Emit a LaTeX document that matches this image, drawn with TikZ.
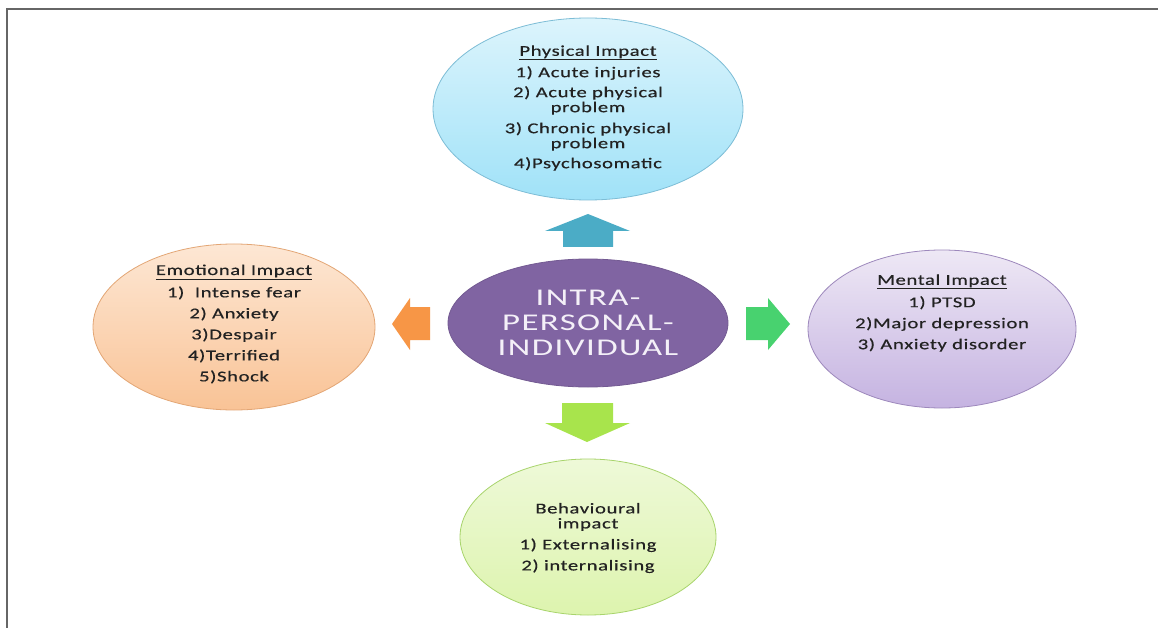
\documentclass[tikz,border=0pt]{standalone}
\usepackage{fontspec}
\setmainfont{Carlito}
\newfontfamily\bodyfont{Carlito}[FakeStretch=1.38,LetterSpace=4,FakeBold=0.4]
\newfontfamily\centfont{Carlito}[FakeStretch=1.45,LetterSpace=6]
\usetikzlibrary{shapes.geometric}
\definecolor{frame}{HTML}{666666}
\definecolor{txt}{HTML}{222222}
\definecolor{phyT}{HTML}{DCF4FC}
\definecolor{phyB}{HTML}{A0E2F8}
\definecolor{phyD}{HTML}{7DBDD6}
\definecolor{emoT}{HTML}{FDE7D4}
\definecolor{emoB}{HTML}{F9C396}
\definecolor{emoD}{HTML}{E3A675}
\definecolor{menT}{HTML}{EEE8F5}
\definecolor{menB}{HTML}{C5B3E1}
\definecolor{menD}{HTML}{9D88BC}
\definecolor{behT}{HTML}{EEF9D8}
\definecolor{behB}{HTML}{DDF4AE}
\definecolor{behD}{HTML}{A8D46C}
\definecolor{cen}{HTML}{8064A2}
\definecolor{centxt}{HTML}{F4F0F8}
\definecolor{arrU}{HTML}{4BACC6}
\definecolor{arrL}{HTML}{F79646}
\definecolor{arrR}{HTML}{48D26F}
\definecolor{arrD}{HTML}{A8E44C}
\tikzset{
  oval/.style={ellipse, inner sep=0pt, line width=0.8pt},
  ovaltext/.style={align=center, text=txt, font=\bodyfont\fontsize{15}{15}\selectfont}
}
\begin{document}
\begin{tikzpicture}[x=1pt,y=-1pt]
\useasboundingbox (0,0) rectangle (1158,628);
\fill[white] (0,0) rectangle (1158,628);
\draw[frame, line width=2pt] (7,628) -- (7,9) -- (1158,9);

% ellipses
\node[oval, minimum width=310, minimum height=182, draw=phyD, top color=phyT, bottom color=phyB] (phys) at (588,109) {};
\node[oval, minimum width=282, minimum height=166, draw=emoD, top color=emoT, bottom color=emoB] (emo) at (234,327) {};
\node[oval, minimum width=268, minimum height=158, draw=menD, top color=menT, bottom color=menB] (ment) at (942,329) {};
\node[oval, minimum width=256, minimum height=156, draw=behD, top color=behT, bottom color=behB] (beh) at (588,537) {};
\node[oval, minimum width=280, minimum height=128, fill=cen, draw=cen!90!black] (cent) at (588,323) {};

% texts
\node[align=center, text=centxt, font=\centfont\fontsize{24}{25}\selectfont] (centtext) at (588,323) {INTRA-\\PERSONAL-\\INDIVIDUAL};
\node[ovaltext] (phystext) at (588,108) {\underline{Physical Impact}\\[5pt]1) Acute injuries\\[5pt]2) Acute physical\\problem\\[6pt]3) Chronic physical\\problem\\[5pt]4)Psychosomatic};
\node[ovaltext] (emotext) at (234,324) {\underline{Emotional Impact}\\[6pt]1)\ \ Intense fear\\[6pt]2) Anxiety\\[6pt]3)Despair\\[6pt]4)Terrified\\[6pt]5)Shock};
\node[ovaltext] (menttext) at (942,313) {\underline{Mental Impact}\\[6pt]1) PTSD\\[6pt]2)Major depression\\[6pt]3) Anxiety disorder};
\node[ovaltext] (behtext) at (588,538) {Behavioural\\impact\\[6pt]1) Externalising\\[6pt]2) internalising};

% block arrows
\fill[arrU] (563,247) -- (563,231) -- (545,231) -- (588,214) -- (630,231) -- (613,231) -- (613,247) -- cycle;
\fill[arrL] (430,307) -- (410,307) -- (410,298) -- (392,324) -- (410,350) -- (410,340) -- (430,340) -- cycle;
\fill[arrR] (746,307) -- (768,307) -- (768,298) -- (790,324) -- (768,350) -- (768,340) -- (746,340) -- cycle;
\fill[arrD] (562,403) -- (613,403) -- (613,423) -- (630,423) -- (587,442) -- (545,423) -- (562,423) -- cycle;
\end{tikzpicture}
\end{document}
